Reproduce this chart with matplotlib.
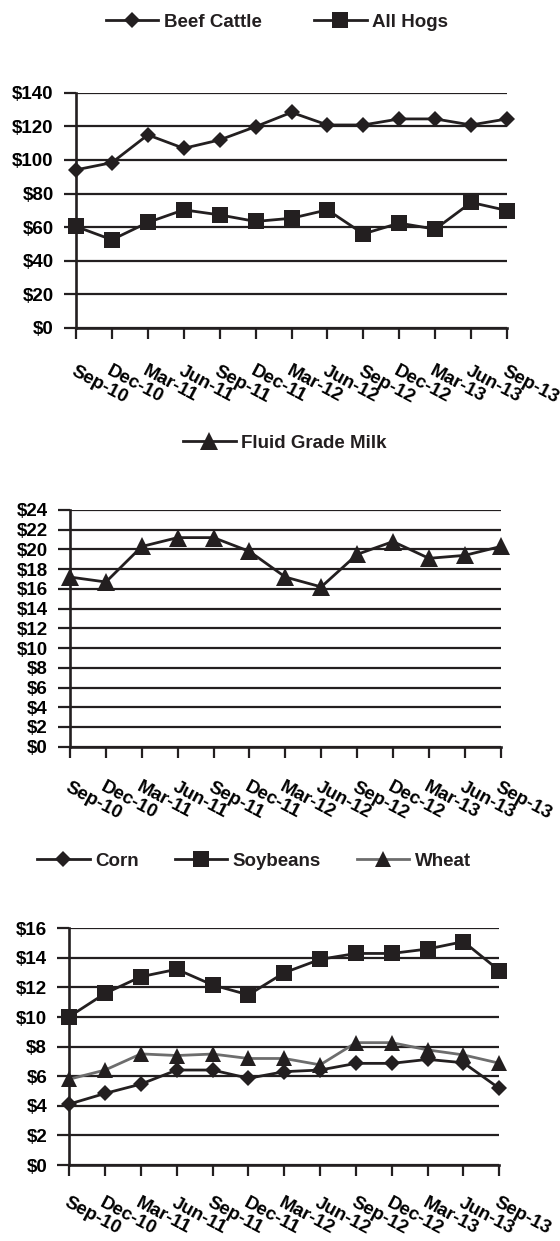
import numpy as np
import matplotlib
matplotlib.use("Agg")
import matplotlib.pyplot as plt

# quarterly prices, Sep-10 .. Sep-13
dates = ["Sep-10", "Dec-10", "Mar-11", "Jun-11", "Sep-11", "Dec-11", "Mar-12",
         "Jun-12", "Sep-12", "Dec-12", "Mar-13", "Jun-13", "Sep-13"]
beef = [94.1, 98.4, 114.9, 106.9, 111.9, 119.8, 128.3, 120.8, 120.8, 124.4, 124.4, 120.8, 124.4]
hogs = [60.4, 52.5, 62.8, 70.3, 67.3, 63.4, 65.3, 70.3, 56.0, 62.4, 58.8, 74.7, 69.9]
milk = [17.2, 16.7, 20.3, 21.2, 21.2, 19.8, 17.2, 16.2, 19.5, 20.8, 19.1, 19.4, 20.3]
corn = [4.12, 4.84, 5.47, 6.42, 6.42, 5.86, 6.31, 6.42, 6.87, 6.87, 7.14, 6.91, 5.18]
soy = [10.03, 11.6, 12.73, 13.23, 12.17, 11.5, 13.0, 13.9, 14.3, 14.3, 14.6, 15.1, 13.14]
wheat = [5.8, 6.42, 7.51, 7.4, 7.5, 7.2, 7.2, 6.77, 8.27, 8.27, 7.78, 7.44, 6.88]

INK = "#231f20"
GREY = "#6d6d6d"
FS = 13.5

plt.rcParams.update({
    "font.family": ["Liberation Sans", "DejaVu Sans"],
    "font.weight": "bold",
    "font.size": FS,
    "text.color": INK,
})

fig = plt.figure(figsize=(5.6, 12.41), dpi=100)
W, H = 560, 1241


def add_axes(left, right, top, bottom):
    return fig.add_axes([left / W, 1 - bottom / H, (right - left) / W, (bottom - top) / H])


def style(ax, ymax, step, xpad=16):
    x = np.arange(len(dates))
    ax.set_xlim(0, len(dates) - 1)
    ax.set_ylim(0, ymax)
    ax.set_yticks(np.arange(0, ymax + step / 2, step))
    ax.set_yticklabels([f"${v:g}" for v in np.arange(0, ymax + step / 2, step)])
    ax.set_xticks(x)
    ax.set_xticklabels(dates, rotation=-28, ha="left", va="top",
                       rotation_mode="anchor")
    ax.tick_params(axis="x", length=8, width=1.6, color=INK, pad=xpad)
    ax.tick_params(axis="y", length=9, width=1.6, color=INK, pad=7)
    ax.grid(axis="y", color=INK, lw=1.6, zorder=1)
    ax.set_axisbelow(True)
    for s in ("top", "right"):
        ax.spines[s].set_visible(False)
    for s in ("left", "bottom"):
        ax.spines[s].set_color(INK)
        ax.spines[s].set_linewidth(1.9)
        ax.spines[s].set_zorder(2)


def series(ax, vals, marker, ms, label, color=INK):
    return ax.plot(np.arange(len(vals)), vals, color=color, lw=2.0, marker=marker,
                   ms=ms, mfc=INK, mec=INK, mew=0, clip_on=False, zorder=4,
                   label=label)[0]


legend_kw = dict(loc="center", frameon=False, handlelength=2.8,
                 handletextpad=0.3, borderpad=0, numpoints=1,
                 prop={"weight": "bold", "size": FS})

# --- livestock
ax1 = add_axes(76, 507, 92.7, 328)
l1 = series(ax1, beef, "D", 8.4, "Beef Cattle")
l2 = series(ax1, hogs, "s", 11.5, "All Hogs")
style(ax1, 140, 20, xpad=17)
fig.legend(handles=[l1, l2], ncol=2, columnspacing=2.8,
           bbox_to_anchor=(277 / W, 1 - 22 / H), **legend_kw)

# --- milk
ax2 = add_axes(70, 500.7, 510, 746.7)
l3 = series(ax2, milk, "^", 12.5, "Fluid Grade Milk")
style(ax2, 24, 2, xpad=15)
fig.legend(handles=[l3], bbox_to_anchor=(285 / W, 1 - 443 / H), **legend_kw)

# --- grains
ax3 = add_axes(69.3, 499.3, 928.3, 1165)
l4 = series(ax3, corn, "D", 8.2, "Corn")
l5 = series(ax3, soy, "s", 11.2, "Soybeans")
l6 = series(ax3, wheat, "^", 11.5, "Wheat", color=GREY)
l6.set_zorder(3)
style(ax3, 16, 2, xpad=13)
fig.legend(handles=[l4, l5, l6], ncol=3, columnspacing=1.9,
           bbox_to_anchor=(254 / W, 1 - 861 / H), **legend_kw)

fig.savefig("out.png", dpi=100)
